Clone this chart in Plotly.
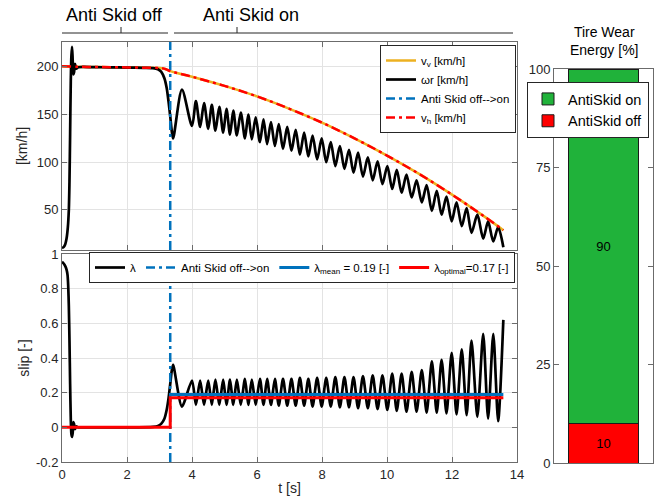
import plotly.graph_objects as go

# ---------------------------------------------------------------------------
# Braking manoeuvre: anti-skid controller switched on at t_switch
# ---------------------------------------------------------------------------
t_switch = 3.33          # [s]
t_end = 13.58            # [s]

# Vehicle speed and hub speed [km/h]
t_speed = [0, 0.5, 1, 1.5, 2, 2.5, 3, 3.2, 3.33, 4, 5, 6, 7, 8, 9, 10, 11, 12, 13, 13.58]
v_vehicle = [200.5, 200, 199.8, 199.6, 199.4, 199.1, 198.7, 197.5, 195.5, 189.6, 180,
             169, 156, 141.5, 125, 107, 87.5, 66, 43, 28.8]
v_hub = [200.5, 200, 199.8, 199.6, 199.4, 199.1, 198.7, 197.5, 195.5, 189.6, 180,
         169, 156, 141.5, 125, 107, 87.5, 66, 43, 28.8]

# Wheel circumferential speed wr [km/h] - spin-up and locked braking phase
t_wr_start = [0, 0.05, 0.10, 0.14, 0.18, 0.21, 0.23, 0.25, 0.27, 0.29, 0.31, 0.33, 0.35,
              0.37, 0.40, 0.44, 0.50, 1.0, 1.5, 2.0, 2.5, 2.8, 2.95, 3.05, 3.15, 3.22,
              3.28, 3.33, 3.38]
wr_start = [10, 11, 14, 20, 32, 50, 80, 130, 185, 212, 221, 206, 192, 194, 203, 198,
            199.5, 199.6, 199.4, 199.2, 198.9, 198.6, 197.5, 195, 188, 178, 163, 148, 132]

# Slip lambda [-] - spin-up and locked braking phase
t_slip_start = [0, 0.05, 0.10, 0.14, 0.17, 0.19, 0.21, 0.23, 0.25, 0.27, 0.29, 0.31, 0.33,
                0.35, 0.37, 0.40, 0.44, 0.50, 1.0, 2.0, 2.8, 2.95, 3.05, 3.15, 3.22, 3.28,
                3.33, 3.38]
slip_start = [0.955, 0.945, 0.93, 0.91, 0.88, 0.82, 0.70, 0.50, 0.25, 0.05, -0.04, -0.055,
              -0.03, 0.03, 0.02, -0.01, 0.005, 0, 0, 0, 0.003, 0.008, 0.02, 0.05, 0.10,
              0.17, 0.25, 0.33]

# Controlled phase: turning points of the slip cycle
t_cycle = [3.42, 3.69, 4.00, 4.12, 4.25, 4.37, 4.50, 4.61, 4.72, 4.84, 4.96, 5.06, 5.17,
           5.27, 5.38, 5.50, 5.63, 5.73, 5.84, 5.96, 6.09, 6.20, 6.31, 6.43, 6.55, 6.67,
           6.80, 6.93, 7.06, 7.19, 7.32, 7.45, 7.58, 7.71, 7.85, 7.99, 8.13, 8.27, 8.41,
           8.55, 8.69, 8.83, 8.97, 9.11, 9.26, 9.41, 9.56, 9.71, 9.86, 10.01, 10.16, 10.30,
           10.45, 10.60, 10.76, 10.91, 11.07, 11.22, 11.38, 11.53, 11.68, 11.83, 11.99,
           12.14, 12.30, 12.45, 12.60, 12.78, 12.96, 13.11, 13.27, 13.42, 13.58]
slip_cycle = [0.36, 0.12, 0.27, 0.13, 0.27, 0.13, 0.27, 0.13, 0.275, 0.13, 0.275, 0.13,
              0.275, 0.13, 0.275, 0.13, 0.28, 0.13, 0.275, 0.13, 0.28, 0.13, 0.28, 0.13,
              0.28, 0.125, 0.28, 0.125, 0.28, 0.125, 0.285, 0.125, 0.28, 0.12, 0.285, 0.12,
              0.285, 0.12, 0.29, 0.115, 0.29, 0.115, 0.29, 0.11, 0.295, 0.11, 0.30, 0.105,
              0.30, 0.10, 0.31, 0.095, 0.31, 0.09, 0.32, 0.09, 0.33, 0.085, 0.38, 0.085,
              0.39, 0.08, 0.43, 0.075, 0.45, 0.07, 0.50, 0.06, 0.54, 0.05, 0.54, 0.035, 0.62]
wr_cycle = [125, 176, 138, 164, 137, 162, 135, 160, 133, 158, 131, 156, 129, 154, 128, 152,
            125, 150, 124, 147, 121, 145, 119, 142, 117, 140, 114, 137, 112, 134, 108, 131,
            106, 128, 103, 125, 100, 121, 96, 117, 93, 113, 89, 110, 85, 105, 81, 101, 77,
            96, 72, 92, 68, 87, 63, 81, 58, 76, 49, 70, 45, 64, 38, 58, 33, 52, 26, 45, 20,
            38, 17, 32, 11]

lambda_mean = 0.19
lambda_optimal = 0.17

# Tire wear energy share [%]
wear_names = ["AntiSkid off", "AntiSkid on"]
wear_share = [10, 90]
wear_colors = ["#FF0000", "#20B23A"]

# Axis limits and ticks
speed_range = [8, 226]
speed_ticks = [50, 100, 150, 200]
slip_range = [-0.2, 1]
slip_ticks = [-0.2, 0, 0.2, 0.4, 0.6, 0.8, 1]
slip_ticklabels = ["-0.2", "0", "0.2", "0.4", "0.6", "0.8", "1"]
time_ticks = [0, 2, 4, 6, 8, 10, 12, 14]
wear_ticks = [0, 25, 50, 75, 100]

FONT = "Liberation Sans, Arial, Helvetica, sans-serif"
INK = "#262626"
FRAME = "#6b6b6b"
GRID = "#e3e3e3"
ORANGE = "#EDB120"
BLUE = "#0072BD"
RED = "#FF0000"
DASHDOT = "9px,4px,3px,4px"

fig = go.Figure()

# ---- upper panel: speeds ----
fig.add_trace(go.Scatter(x=t_speed, y=v_vehicle, mode="lines", name="v<sub>v</sub> [km/h]",
                         line=dict(color=ORANGE, width=2.5, shape="spline"),
                         xaxis="x", yaxis="y", legend="legend"))
fig.add_trace(go.Scatter(x=t_wr_start + t_cycle, y=wr_start + wr_cycle, mode="lines",
                         name="\u03c9r [km/h]",
                         line=dict(color="black", width=2.7, shape="spline", smoothing=0.8),
                         xaxis="x", yaxis="y", legend="legend"))
fig.add_trace(go.Scatter(x=[t_switch, t_switch], y=speed_range, mode="lines",
                         name="Anti Skid off-->on",
                         line=dict(color=BLUE, width=2.5, dash=DASHDOT),
                         xaxis="x", yaxis="y", legend="legend"))
fig.add_trace(go.Scatter(x=t_speed, y=v_hub, mode="lines", name="v<sub>h</sub> [km/h]",
                         line=dict(color=RED, width=2.5, dash=DASHDOT, shape="spline"),
                         xaxis="x", yaxis="y", legend="legend"))

# ---- lower panel: slip ----
fig.add_trace(go.Scatter(x=t_slip_start + t_cycle, y=slip_start + slip_cycle, mode="lines",
                         name="\u03bb",
                         line=dict(color="black", width=2.7, shape="spline", smoothing=0.7),
                         xaxis="x2", yaxis="y2", legend="legend2"))
fig.add_trace(go.Scatter(x=[t_switch, t_switch], y=slip_range, mode="lines",
                         name="Anti Skid off-->on",
                         line=dict(color=BLUE, width=2.5, dash=DASHDOT),
                         xaxis="x2", yaxis="y2", legend="legend2"))
fig.add_trace(go.Scatter(x=[t_switch, t_end], y=[lambda_mean, lambda_mean], mode="lines",
                         name="\u03bb<sub>mean</sub> = %.2f [-]" % lambda_mean,
                         line=dict(color=BLUE, width=3),
                         xaxis="x2", yaxis="y2", legend="legend2"))
fig.add_trace(go.Scatter(x=[0, t_switch, t_switch, t_end],
                         y=[0, 0, lambda_optimal, lambda_optimal], mode="lines",
                         name="\u03bb<sub>optimal</sub>=%.2f [-]" % lambda_optimal,
                         line=dict(color=RED, width=3),
                         xaxis="x2", yaxis="y2", legend="legend2"))

# ---- right panel: tire wear energy ----
for name, share, color in zip(wear_names, wear_share, wear_colors):
    fig.add_trace(go.Bar(x=[1], y=[share], name=name, width=0.71,
                         marker=dict(color=color, line=dict(color="#1a1a1a", width=1)),
                         text=[str(share)], textposition="inside", insidetextanchor="middle",
                         textfont=dict(family=FONT, size=13, color="black"),
                         xaxis="x3", yaxis="y3", legend="legend3"))

axis_common = dict(showline=True, linecolor=FRAME, linewidth=1, mirror="ticks",
                   ticks="inside", ticklen=5, tickcolor=FRAME, zeroline=False,
                   automargin=False,
                   tickfont=dict(family=FONT, size=13, color=INK))
x_dom = [62 / 655, 517 / 655]
legend_common = dict(bgcolor="white", bordercolor=INK, borderwidth=1, itemwidth=30)

fig.update_layout(
    width=655, height=499,
    margin=dict(l=0, r=0, t=0, b=0, autoexpand=False),
    paper_bgcolor="white", plot_bgcolor="white",
    showlegend=True, barmode="stack",
    xaxis=dict(domain=x_dom, anchor="y", range=[0, 14], tickvals=time_ticks,
               showticklabels=False, showgrid=True, gridcolor=GRID, **axis_common),
    yaxis=dict(domain=[1 - 250 / 499, 1 - 42 / 499], anchor="x", range=speed_range,
               tickvals=speed_ticks, showgrid=True, gridcolor=GRID,
               title=dict(text="[km/h]", standoff=5,
                          font=dict(family=FONT, size=14, color=INK)),
               **axis_common),
    xaxis2=dict(domain=x_dom, anchor="y2", range=[0, 14], tickvals=time_ticks,
                showgrid=True, gridcolor=GRID,
                title=dict(text="t [s]", standoff=2,
                           font=dict(family=FONT, size=14, color=INK)),
                **axis_common),
    yaxis2=dict(domain=[1 - 462 / 499, 1 - 254 / 499], anchor="x2", range=slip_range,
                tickvals=slip_ticks, ticktext=slip_ticklabels, showgrid=True, gridcolor=GRID,
                title=dict(text="slip [-]", standoff=3,
                           font=dict(family=FONT, size=14, color=INK)),
                **axis_common),
    xaxis3=dict(domain=[554 / 655, 653 / 655], anchor="y3", range=[0.5, 1.5], showline=True,
                linecolor=FRAME, mirror=True, showticklabels=False, ticks="",
                showgrid=False, zeroline=False, automargin=False),
    yaxis3=dict(domain=[1 - 463 / 499, 1 - 69 / 499], anchor="x3", range=[0, 100],
                tickvals=wear_ticks, showgrid=False, **axis_common),
    legend=dict(x=516 / 655, xanchor="right", y=1 - 45 / 499, yanchor="top",
                font=dict(family=FONT, size=11.5, color="black"), **legend_common),
    legend2=dict(x=515 / 655, xanchor="right", y=1 - 252 / 499, yanchor="top",
                 orientation="h", font=dict(family=FONT, size=11.5, color="black"),
                 **legend_common),
    legend3=dict(x=649 / 655, xanchor="right", y=1 - 82 / 499, yanchor="top",
                 traceorder="reversed", bgcolor="white", bordercolor=INK, borderwidth=1,
                 font=dict(family=FONT, size=14.5, color="black")),
)

# Phase brackets above the upper panel
bracket = dict(type="line", xref="paper", yref="paper", line=dict(color=INK, width=1))
y_br, y_tick = 1 - 33 / 499, 1 - 27 / 499
fig.add_shape(x0=62 / 655, x1=168 / 655, y0=y_br, y1=y_br, **bracket)
fig.add_shape(x0=121 / 655, x1=121 / 655, y0=y_br, y1=y_tick, **bracket)
fig.add_shape(x0=174 / 655, x1=513 / 655, y0=y_br, y1=y_br, **bracket)
fig.add_shape(x0=237 / 655, x1=237 / 655, y0=y_br, y1=y_tick, **bracket)

fig.add_annotation(text="Anti Skid off", x=114 / 655, y=1 - 15 / 499, xref="paper",
                   yref="paper", showarrow=False, xanchor="center", yanchor="middle",
                   font=dict(family=FONT, size=18, color="black"))
fig.add_annotation(text="Anti Skid on", x=251 / 655, y=1 - 15 / 499, xref="paper",
                   yref="paper", showarrow=False, xanchor="center", yanchor="middle",
                   font=dict(family=FONT, size=18, color="black"))
fig.add_annotation(text="Tire Wear<br>Energy [%]", x=604 / 655, y=1 - 41 / 499,
                   xref="paper", yref="paper", showarrow=False, xanchor="center",
                   yanchor="middle", font=dict(family=FONT, size=14, color="black"))

fig.write_html("out.html")
